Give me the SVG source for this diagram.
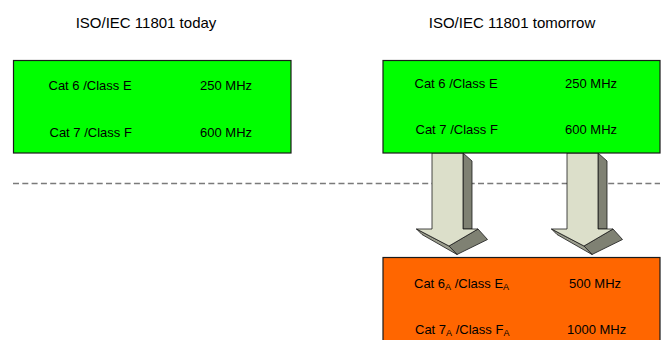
<svg xmlns="http://www.w3.org/2000/svg" width="664" height="340" viewBox="0 0 664 340">
<style>
text{font-family:"Liberation Sans",Arial,sans-serif;fill:#000}
.t{font-size:15px}
.b{font-size:13px}
.s{font-size:9px}
.green{fill:#00ff00;stroke:#1a1a1a;stroke-width:1.2}
.orange{fill:#ff6600;stroke:#1a1a1a;stroke-width:1.2}
.lt{fill:#dcdfca;stroke:#1a1a1a;stroke-width:0.8;stroke-linejoin:round}
.dk{fill:#7f8173;stroke:#1a1a1a;stroke-width:0.8;stroke-linejoin:round}
.md{fill:#9c9e8e;stroke:#1a1a1a;stroke-width:0.8;stroke-linejoin:round}
</style>
<defs>
<g id="arrow">
<path class="dk" d="M463,153 L472,161 V229 H463 Z"/>
<path class="dk" d="M478,229 L487.5,239.5 L457,254.5 L449,246 Z"/>
<path class="md" d="M416.5,229 L449,246 L457,254.5 L422,234.5 Z"/>
<path class="lt" d="M432,153 H463 V229 H478 L449,246 L416.5,229 H432 Z"/>
</g>
</defs>
<g id="titles">
<text class="t" x="146" y="28" text-anchor="middle">ISO/IEC 11801 today</text>
<text class="t" x="512" y="28" text-anchor="middle">ISO/IEC 11801 tomorrow</text>
</g>
<g id="connectors">
<line x1="13" y1="183.5" x2="660" y2="183.5" stroke="#7a7a7a" stroke-width="1.5" stroke-dasharray="6,3.3"/>
<use href="#arrow"/>
<use href="#arrow" x="135"/>
</g>
<g id="today">
<rect class="green" x="13.5" y="60.5" width="277.5" height="92.5"/>
<text class="b" x="48.5" y="90">Cat 6 /Class E</text>
<text class="b" x="200" y="90">250 MHz</text>
<text class="b" x="49.5" y="137">Cat 7 /Class F</text>
<text class="b" x="200" y="137">600 MHz</text>
</g>
<g id="tomorrow">
<rect class="green" x="383" y="60.5" width="277" height="92.5"/>
<text class="b" x="414.5" y="87.5">Cat 6 /Class E</text>
<text class="b" x="565" y="87.5">250 MHz</text>
<text class="b" x="415.5" y="133.5">Cat 7 /Class F</text>
<text class="b" x="565" y="133.5">600 MHz</text>
</g>
<g id="augmented">
<rect class="orange" x="383" y="257.5" width="277" height="90"/>
<text class="b" x="414" y="288">Cat 6<tspan class="s" dy="2">A</tspan><tspan dy="-2"> /Class E</tspan><tspan class="s" dy="2">A</tspan></text>
<text class="b" x="569" y="288">500 MHz</text>
<text class="b" x="415" y="334">Cat 7<tspan class="s" dy="2">A</tspan><tspan dy="-2"> /Class F</tspan><tspan class="s" dy="2">A</tspan></text>
<text class="b" x="567" y="334">1000 MHz</text>
</g>
</svg>
